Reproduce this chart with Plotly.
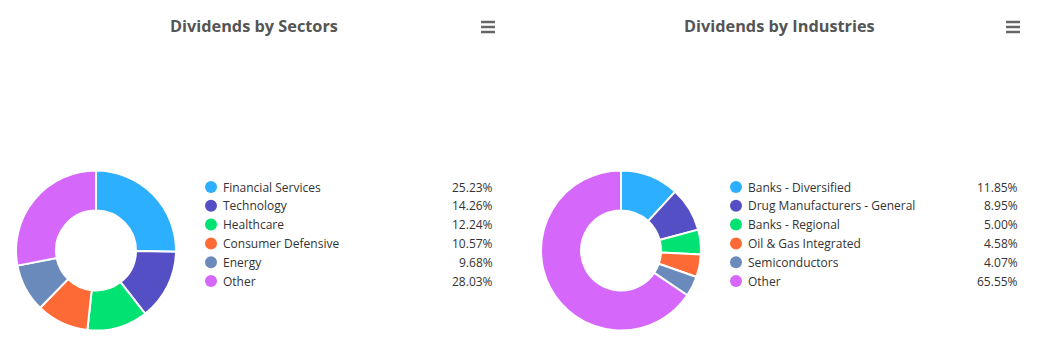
import plotly.graph_objects as go

W, H = 1037, 359
OFF = 8  # default page body margin
FW, FH = W - OFF, H - OFF

colors = ["#2caffe", "#544fc5", "#00e272", "#fe6a35", "#6b8abc", "#d568fb"]

sector_labels = ["Financial Services", "Technology", "Healthcare", "Consumer Defensive", "Energy", "Other"]
sector_values = [25.23, 14.26, 12.24, 10.57, 9.68, 28.03]

industry_labels = ["Banks - Diversified", "Drug Manufacturers - General", "Banks - Regional",
                   "Oil & Gas Integrated", "Semiconductors", "Other"]
industry_values = [11.85, 8.95, 5.00, 4.58, 4.07, 65.55]

titles = ["Dividends by Sectors", "Dividends by Industries"]

FONT = "Open Sans"


def px(x):
    return (x - OFF) / FW


def py(y):
    return 1 - (y - OFF) / FH


fig = go.Figure()
annotations = []
shapes = []

panels = [
    dict(labels=sector_labels, values=sector_values, cx=96, cy=250.5, r=80,
         title=titles[0], tx=254, lx=211, ltx=221, vx=495, menu=488),
    dict(labels=industry_labels, values=industry_values, cx=621, cy=250.5, r=80,
         title=titles[1], tx=779, lx=736, ltx=746, vx=1020, menu=1013),
]

for p in panels:
    fig.add_trace(go.Pie(
        labels=p["labels"], values=p["values"], sort=False, direction="clockwise",
        rotation=0, hole=0.5, textinfo="none", hoverinfo="label+percent",
        marker=dict(colors=colors, line=dict(color="white", width=2)),
        domain=dict(x=[px(p["cx"] - p["r"]), px(p["cx"] + p["r"])],
                    y=[py(p["cy"] + p["r"]), py(p["cy"] - p["r"])]),
        showlegend=False,
    ))
    annotations.append(dict(
        text="<b>" + p["title"] + "</b>", x=px(p["tx"]), y=py(26), xref="paper", yref="paper",
        xanchor="center", yanchor="middle", showarrow=False,
        font=dict(family=FONT, size=16.3, color="#555555")))
    # hamburger menu
    for dy in (-5, 0, 5):
        shapes.append(dict(type="line", xref="paper", yref="paper",
                           x0=px(p["menu"] - 7), x1=px(p["menu"] + 7),
                           y0=py(27 + dy), y1=py(27 + dy),
                           line=dict(color="#666666", width=2.5)))
    for i, (lab, val) in enumerate(zip(p["labels"], p["values"])):
        yy = 187 + i * 18.8
        shapes.append(dict(type="circle", xref="paper", yref="paper",
                           x0=px(p["lx"] - 6), x1=px(p["lx"] + 6),
                           y0=py(yy - 6), y1=py(yy + 6),
                           fillcolor=colors[i], line=dict(width=0)))
        annotations.append(dict(
            text=lab, x=px(p["ltx"]), y=py(yy), xref="paper", yref="paper",
            xanchor="left", yanchor="middle", showarrow=False,
            font=dict(family=FONT, size=12, color="#333333")))
        annotations.append(dict(
            text=f"{val:.2f}%", x=px(p["vx"]), y=py(yy), xref="paper", yref="paper",
            xanchor="right", yanchor="middle", showarrow=False,
            font=dict(family=FONT, size=12, color="#333333")))

fig.update_layout(
    width=FW, height=FH, margin=dict(l=0, r=0, t=0, b=0),
    paper_bgcolor="white", plot_bgcolor="white",
    annotations=annotations, shapes=shapes,
)

fig.write_html("out.html")
